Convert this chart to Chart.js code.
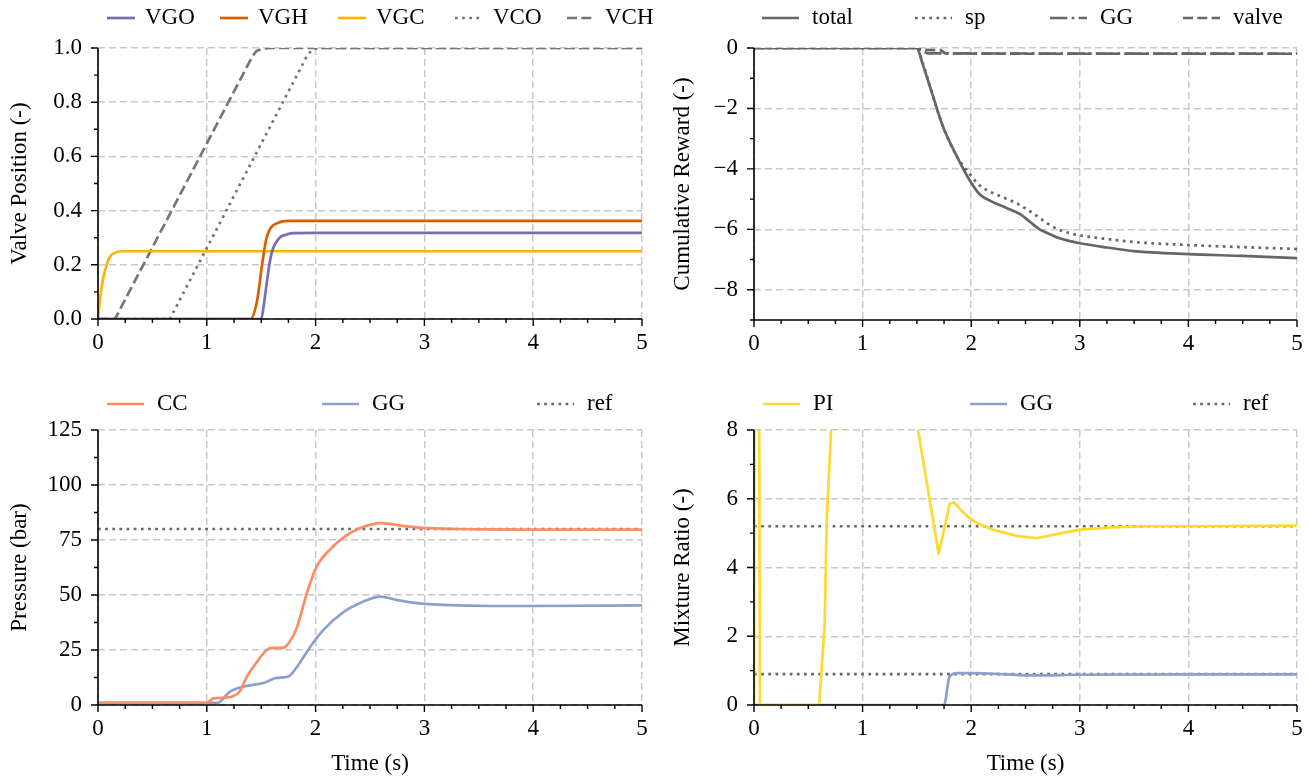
<!DOCTYPE html>
<html>
<head>
<meta charset="utf-8">
<script src="https://cdn.jsdelivr.net/npm/chart.js@4.4.1/dist/chart.umd.min.js"></script>
<style>
    html, body { margin: 0; padding: 0; background: #fff; }
    #wrap { position: relative; width: 1308px; height: 781px; overflow: hidden; }
    canvas { position: absolute; }
</style>
</head>
<body>
<div id="wrap">
    <canvas id="valveChart" width="654" height="390" style="left:0;top:0"></canvas>
    <canvas id="rewardChart" width="654" height="390" style="left:654px;top:0"></canvas>
    <canvas id="pressureChart" width="654" height="391" style="left:0;top:390px"></canvas>
    <canvas id="mixtureChart" width="654" height="391" style="left:654px;top:390px"></canvas>
</div>
<script>
// ---- data ----
const xTicks = [0, 1, 2, 3, 4, 5];
const xMinor = [0.25, 0.5, 0.75, 1.25, 1.5, 1.75, 2.25, 2.5, 2.75, 3.25, 3.5, 3.75, 4.25, 4.5, 4.75];

// valve positions
const tVGO = [0, 1.5, 1.52, 1.55, 1.575, 1.6, 1.67, 1.72, 1.79, 2.0, 5];
const vVGO = [0, 0, 0.04, 0.13, 0.2, 0.25, 0.30, 0.31, 0.317, 0.318, 0.318];
const tVGH = [0, 1.40, 1.46, 1.51, 1.55, 1.65, 1.76, 5];
const vVGH = [0, 0, 0.063, 0.206, 0.30, 0.354, 0.362, 0.362];
const tVGC = [0, 0.02, 0.05, 0.08, 0.11, 0.16, 0.23, 5];
const vVGC = [0, 0.08, 0.155, 0.2, 0.23, 0.245, 0.25, 0.25];
const tVCO = [0, 0.66, 1.92, 1.97, 2.02, 5];
const vVCO = [0, 0, 0.97, 0.995, 1.0, 1.0];
const tVCH = [0, 0.156, 1.42, 1.46, 1.52, 1.6, 5];
const vVCH = [0, 0, 0.97, 0.99, 0.998, 1.0, 1.0];
const valveTicks = [0, 0.2, 0.4, 0.6, 0.8, 1.0];
const valveMinor = [0.1, 0.3, 0.5, 0.7, 0.9];

// cumulative reward
const tTotal = [0, 1.5, 1.55, 1.64, 1.74, 1.87, 1.99, 2.08, 2.2, 2.33, 2.45, 2.54, 2.63, 2.7, 2.8, 2.9, 3.0, 3.25, 3.5, 4, 4.5, 5];
const vTotal = [0, 0, -0.5, -1.5, -2.6, -3.6, -4.4, -4.85, -5.1, -5.3, -5.5, -5.75, -6.0, -6.12, -6.28, -6.38, -6.46, -6.6, -6.72, -6.82, -6.88, -6.95];
const tSp = [0, 1.5, 1.55, 1.64, 1.74, 1.87, 1.96, 2.08, 2.2, 2.3, 2.45, 2.6, 2.7, 2.8, 2.9, 3.0, 3.25, 3.5, 4, 4.5, 5];
const vSp = [0, 0, -0.45, -1.5, -2.6, -3.6, -4.05, -4.55, -4.8, -4.95, -5.2, -5.55, -5.8, -6.0, -6.12, -6.2, -6.32, -6.42, -6.52, -6.59, -6.65];
const tGGr = [0, 1.5, 1.56, 1.6, 5];
const vGGr = [0, 0, -0.12, -0.18, -0.19];
const tValve = [0, 1.5, 1.55, 1.72, 1.76, 2.5, 5];
const vValve = [0, 0, -0.06, -0.07, -0.18, -0.19, -0.19];
const rewardTicks = [0, -2, -4, -6, -8];
const rewardMinor = [-1, -3, -5, -7, -9];

// pressures
const tCC = [0, 1.0, 1.06, 1.15, 1.24, 1.30, 1.37, 1.46, 1.55, 1.61, 1.70, 1.76, 1.83, 1.92, 2.01, 2.10, 2.25, 2.41, 2.61, 2.80, 2.99, 3.3, 3.6, 4, 5];
const vCC = [1, 1, 3, 3.3, 4, 6, 13, 19.5, 25, 26, 26, 28.6, 35.5, 51, 63, 69, 76, 80.5, 82.7, 81.4, 80.5, 80, 79.8, 79.7, 79.7];
const tGGp = [0, 1.1, 1.21, 1.33, 1.52, 1.64, 1.75, 1.83, 1.95, 2.07, 2.25, 2.44, 2.59, 2.75, 2.93, 3.17, 3.6, 4, 5];
const vGGp = [1, 1, 6, 8.3, 10, 12.3, 13, 17.4, 26.4, 34, 42, 47, 49.3, 47.7, 46.3, 45.5, 45, 45, 45.3];
const pressureRef = 80;
const pressureTicks = [0, 25, 50, 75, 100, 125];
const pressureMinor = [12.5, 37.5, 62.5, 87.5, 112.5];

// mixture ratios
const tPI = [0, 0.02, 0.055, 0.6, 0.65, 0.67, 0.71, 0.75, 1.0, 1.45, 1.51, 1.60, 1.70, 1.75, 1.80, 1.84, 1.91, 1.98, 2.05, 2.2, 2.42, 2.6, 2.8, 3.0, 3.3, 3.6, 4, 5];
const vPI = [0, 40, 0, 0, 2.3, 5.4, 8, 11, 30, 10.5, 8, 6.3, 4.4, 5.1, 5.85, 5.9, 5.65, 5.45, 5.3, 5.1, 4.92, 4.85, 4.98, 5.1, 5.17, 5.2, 5.2, 5.22];
const tGGm = [0, 1.75, 1.80, 1.87, 2.02, 2.45, 2.6, 3, 4, 5];
const vGGm = [0, 0, 0.82, 0.93, 0.93, 0.87, 0.86, 0.88, 0.89, 0.89];
const mixRefPI = 5.2;
const mixRefGG = 0.9;
const mixTicks = [0, 2, 4, 6, 8];
const mixMinor = [1, 3, 5, 7];

// ---- styling ----
const FONT = 'Liberation Serif';
const FSIZE = 23;
Chart.defaults.font.family = FONT;
Chart.defaults.font.size = FSIZE;
Chart.defaults.color = '#000';
const gridColor = '#c9c9c9';
const gridDash = [7, 4];
const LW = 2.7;
const dotted = [LW, 4.45];
const dashed = [10, 4.3];
const dashDot = [17.3, 4.3, LW, 4.3];
const straight = { cubicInterpolationMode: 'default', tension: 0 };
const minus = v => (v < 0 ? '\u2212' + Math.abs(v) : String(v));

function pts(t, v) {
    return t.map((x, i) => ({ x: x, y: v[i] }));
}

function line(label, t, v, color, dash, extra) {
    return Object.assign({
        label: label,
        data: pts(t, v),
        borderColor: color,
        borderWidth: LW,
        borderDash: dash || [],
        pointRadius: 0,
        cubicInterpolationMode: 'monotone',
        fill: false,
        borderJoinStyle: 'round'
    }, extra || {});
}

// spines + major/minor tick marks like matplotlib
const axesPlugin = {
    id: 'mplAxes',
    afterDatasetsDraw(chart, args, opts) {
        const { ctx, chartArea: a, scales: { x, y } } = chart;
        ctx.save();
        ctx.strokeStyle = '#000';
        ctx.lineWidth = 1.4;
        ctx.beginPath();
        const tick = (list, len, isX) => list.forEach(v => {
            if (isX) {
                const px = x.getPixelForValue(v);
                ctx.moveTo(px, a.bottom);
                ctx.lineTo(px, a.bottom + len);
            } else {
                const py = y.getPixelForValue(v);
                ctx.moveTo(a.left, py);
                ctx.lineTo(a.left - len, py);
            }
        });
        tick(opts.xMajor, 7, true);
        tick(opts.xMinor, 4, true);
        tick(opts.yMajor, 7, false);
        tick(opts.yMinor, 4, false);
        ctx.stroke();
        ctx.lineWidth = 1.6;
        ctx.beginPath();
        ctx.moveTo(a.left, a.top);
        ctx.lineTo(a.left, a.bottom);
        ctx.lineTo(a.right, a.bottom);
        ctx.stroke();
        ctx.restore();
    }
};

// legend row above the plot, one slot per series
const legendPlugin = {
    id: 'mplLegend',
    afterDraw(chart, args, opts) {
        const ctx = chart.ctx;
        ctx.save();
        ctx.font = FSIZE + 'px "' + FONT + '"';
        ctx.textBaseline = 'middle';
        ctx.fillStyle = '#000';
        let k = 0;
        chart.data.datasets.forEach(ds => {
            if (ds.noLegend) return;
            const x0 = opts.xs[k++];
            ctx.strokeStyle = ds.borderColor;
            ctx.lineWidth = ds.borderWidth;
            ctx.setLineDash(ds.borderDash || []);
            ctx.beginPath();
            ctx.moveTo(x0, opts.y);
            ctx.lineTo(x0 + opts.handle, opts.y);
            ctx.stroke();
            ctx.setLineDash([]);
            ctx.fillText(ds.label, x0 + opts.handle + opts.gap, opts.y);
        });
        ctx.restore();
    }
};

function xAxis(title, height) {
    return {
        type: 'linear',
        min: 0,
        max: 5,
        afterBuildTicks: s => { s.ticks = xTicks.map(v => ({ value: v })); },
        afterFit: s => { s.height = height; s.paddingLeft = 0; s.paddingRight = 0; },
        ticks: { padding: 10, autoSkip: false, maxRotation: 0, callback: v => String(v) },
        grid: { color: gridColor, lineWidth: 1.5, drawTicks: false },
        border: { display: false, dash: gridDash },
        title: { display: !!title, text: title || '', padding: { top: 0, bottom: 3 } }
    };
}

function yAxis(min, max, ticks, fmt, title, width, titlePad) {
    return {
        type: 'linear',
        min: min,
        max: max,
        afterBuildTicks: s => { s.ticks = ticks.map(v => ({ value: v })); },
        afterFit: s => { s.width = width; s.paddingTop = 0; s.paddingBottom = 0; },
        ticks: { padding: 16, autoSkip: false, callback: fmt },
        grid: { color: gridColor, lineWidth: 1.5, drawTicks: false },
        border: { display: false, dash: gridDash },
        title: { display: true, text: title, padding: { top: titlePad, bottom: 0 } }
    };
}

function makeChart(id, datasets, cfg) {
    return new Chart(document.getElementById(id), {
        type: 'line',
        data: { datasets: datasets },
        options: {
            responsive: false,
            animation: false,
            devicePixelRatio: 1,
            layout: { padding: { top: cfg.top, right: cfg.right, left: 0, bottom: 0 } },
            scales: { x: cfg.x, y: cfg.y },
            plugins: {
                legend: { display: false },
                tooltip: { enabled: false },
                mplAxes: cfg.axes,
                mplLegend: cfg.legend
            }
        },
        plugins: [axesPlugin, legendPlugin]
    });
}

// Valve position
makeChart('valveChart', [
    line('VGO', tVGO, vVGO, '#7570b3'),
    line('VGH', tVGH, vVGH, '#d95f02'),
    line('VGC', tVGC, vVGC, '#ffb400'),
    line('VCO', tVCO, vVCO, '#757575', dotted, straight),
    line('VCH', tVCH, vVCH, '#757575', dashed, straight)
], {
    top: 48, right: 12,
    x: xAxis(null, 71),
    y: yAxis(0, 1, valveTicks, v => v.toFixed(1), 'Valve Position (-)', 98, 6),
    axes: { xMajor: xTicks, xMinor: xMinor, yMajor: valveTicks, yMinor: valveMinor },
    legend: { y: 18, handle: 28, gap: 10, xs: [107, 220, 338, 455, 567] }
});

// Cumulative reward
makeChart('rewardChart', [
    line('total', tTotal, vTotal, '#666666'),
    line('sp', tSp, vSp, '#666666', dotted),
    line('GG', tGGr, vGGr, '#666666', dashDot, straight),
    line('valve', tValve, vValve, '#666666', dashed, straight)
], {
    top: 48, right: 11,
    x: xAxis(null, 70),
    y: yAxis(-9, 0, rewardTicks, minus, 'Cumulative Reward (-)', 100, 15),
    axes: { xMajor: xTicks, xMinor: xMinor, yMajor: rewardTicks, yMinor: rewardMinor },
    legend: { y: 18, handle: 37, gap: 13, xs: [108, 261, 396, 529] }
});

// Pressure
makeChart('pressureChart', [
    line('CC', tCC, vCC, '#fc8d62'),
    line('GG', tGGp, vGGp, '#8da0cb'),
    line('ref', [0, 5], [pressureRef, pressureRef], '#666666', dotted)
], {
    top: 40, right: 12,
    x: xAxis('Time (s)', 76),
    y: yAxis(0, 125, pressureTicks, v => String(v), 'Pressure (bar)', 98, 6),
    axes: { xMajor: xTicks, xMinor: xMinor, yMajor: pressureTicks, yMinor: pressureMinor },
    legend: { y: 14, handle: 37, gap: 13, xs: [107, 322, 537] }
});

// Mixture ratio
makeChart('mixtureChart', [
    line('PI', tPI, vPI, '#ffd92f', null, straight),
    line('GG', tGGm, vGGm, '#8da0cb'),
    line('ref', [0, 5], [mixRefPI, mixRefPI], '#666666', dotted),
    line('ref', [0, 5], [mixRefGG, mixRefGG], '#666666', dotted, { noLegend: true })
], {
    top: 40, right: 11,
    x: xAxis('Time (s)', 76),
    y: yAxis(0, 8, mixTicks, v => String(v), 'Mixture Ratio (-)', 100, 15),
    axes: { xMajor: xTicks, xMinor: xMinor, yMajor: mixTicks, yMinor: mixMinor },
    legend: { y: 14, handle: 37, gap: 13, xs: [109, 316, 539] }
});
</script>
</body>
</html>
